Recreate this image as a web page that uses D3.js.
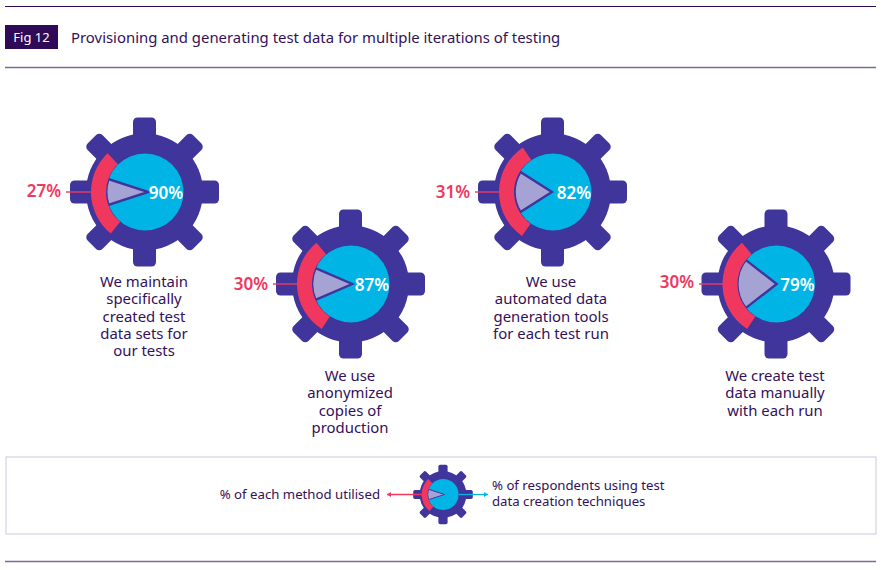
<!DOCTYPE html>
<html><head><meta charset="utf-8">
<script src="https://cdn.jsdelivr.net/npm/d3@7/dist/d3.min.js"></script>
<style>html,body{margin:0;padding:0;background:#fff}svg{display:block}text{font-family:"Noto Sans",sans-serif}</style>
</head><body><svg id="c" width="892" height="570"></svg>
<script>
const figLabel = "Fig 12";
const title = "Provisioning and generating test data for multiple iterations of testing";
const respondents = [90, 87, 82, 79];
const utilised = [27, 30, 31, 30];
const captions = [
  ["We maintain","specifically","created test","data sets for","our tests"],
  ["We use","anonymized","copies of","production"],
  ["We use","automated data","generation tools","for each test run"],
  ["We create test","data manually","with each run"]
];
const legendLeft = "% of each method utilised";
const legendRight = ["% of respondents using test","data creation techniques"];

const cols = {ink:"#33105a", dark:"#2f0a56", gear:"#40359b", blue:"#00b5e6", red:"#f0385f", wedge:"#a5a3d3", rule:"#7d6a94"};
const centers = [[144.5,192],[350.5,284],[552.5,192],[776,284]];
const labelY = [281,375,281,375];
const capX = [144,350,551,775];
const pctX = [44,251,453,677];
const pctY = [191,284,192,282];
const tipShift = [3.8,1.7,-0.6,0.7];
const tipReach = [42,40,37.3,39.3];
const ringShift = [0.04,0.06,-0.01,0.06];

const svg = d3.select("#c");
const angle = d3.scaleLinear().domain([0,100]).range([0,2*Math.PI]);
const toothAngles = d3.range(8).map(i=>i*45);

function gear(parent,cx,cy,k,resp,util,i){
  const g = parent.append("g").attr("transform",`translate(${cx},${cy}) scale(${k})`);
  g.selectAll("rect.t").data(toothAngles).join("rect").attr("class","t")
    .attr("x",d=>d%90?-10.5:-11.5).attr("width",d=>d%90?21:23).attr("y",-74.5).attr("height",30).attr("rx",4.5)
    .attr("transform",d=>`rotate(${d})`).attr("fill",cols.gear);
  g.append("circle").attr("r",58.5).attr("fill",cols.gear);
  g.append("circle").attr("cx",0.5).attr("r",38.5).attr("fill",cols.blue);
  const rest = angle(100-resp);
  const mid = -Math.PI/2;
  g.append("path").attr("transform",`translate(${tipShift[i]},0)`)
    .attr("d",d3.arc()({innerRadius:0,outerRadius:tipReach[i],startAngle:mid-rest/2,endAngle:mid+rest/2}))
    .attr("fill",cols.wedge).attr("stroke",cols.gear).attr("stroke-width",2.4).attr("stroke-linejoin","miter");
  const span = angle(util), m2 = mid - ringShift[i];
  g.append("path").attr("d",d3.arc()({innerRadius:38.5,outerRadius:53.5,startAngle:m2-span/2,endAngle:m2+span/2})).attr("fill",cols.red);
}

// rules and header
[[6.5,cols.dark,1.1],[67.5,cols.rule,1.4],[561.5,cols.rule,1.4]].forEach(([y,c,w])=>
  svg.append("line").attr("x1",5).attr("x2",876).attr("y1",y).attr("y2",y).attr("stroke",c).attr("stroke-width",w));
svg.append("rect").attr("x",5).attr("y",25).attr("width",53).attr("height",24).attr("fill",cols.dark);
svg.append("text").attr("x",31.5).attr("y",37).attr("text-anchor","middle").attr("dominant-baseline","central").attr("font-size",13).attr("fill","#fff").text(figLabel);
svg.append("text").attr("x",71).attr("y",36.5).attr("dominant-baseline","central").attr("font-size",14.9).attr("fill",cols.ink).text(title);

// gears
respondents.forEach((r,i)=>{
  const [cx,cy]=centers[i];
  gear(svg,cx,cy,1,r,utilised[i],i);
  svg.append("line").attr("x1",pctX[i]+22).attr("x2",cx-53).attr("y1",cy).attr("y2",cy).attr("stroke",cols.red).attr("stroke-width",1.4);
  svg.append("text").attr("x",cx+21.5).attr("y",cy+0.5).attr("text-anchor","middle").attr("dominant-baseline","central")
    .attr("font-size",17).attr("font-weight",600).attr("fill","#fff").text(r+"%");
  svg.append("text").attr("x",pctX[i]).attr("y",pctY[i]-0.5).attr("text-anchor","middle").attr("dominant-baseline","central")
    .attr("font-size",17).attr("font-weight",600).attr("fill",cols.red).text(utilised[i]+"%");
  captions[i].forEach((t,j)=>svg.append("text").attr("x",capX[i]).attr("y",labelY[i]+j*17.3)
    .attr("text-anchor","middle").attr("dominant-baseline","central").attr("font-size",14.9).attr("fill",cols.ink).text(t));
});

// legend
svg.append("rect").attr("x",6).attr("y",457).attr("width",870).attr("height",77).attr("fill","#fff").attr("stroke","#d3d3e6").attr("stroke-width",1.2);
const lx=443, ly=494.5;
gear(svg,lx,ly,0.4,90,27,0);
function arrow(x1,x2,c){
  svg.append("line").attr("x1",x1).attr("x2",x2).attr("y1",ly).attr("y2",ly).attr("stroke",c).attr("stroke-width",1.3);
  const s=Math.sign(x2-x1);
  svg.append("path").attr("d",d3.line()([[x2,ly],[x2-s*4,ly-2.5],[x2-s*4,ly+2.5]])+"Z").attr("fill",c);
}
arrow(423,387,cols.red);
arrow(459,488,cols.blue);
svg.append("text").attr("x",380).attr("y",493.5).attr("text-anchor","end").attr("dominant-baseline","central").attr("font-size",13.2).attr("fill",cols.ink).text(legendLeft);
legendRight.forEach((t,j)=>svg.append("text").attr("x",492).attr("y",484.5+j*16).attr("dominant-baseline","central").attr("font-size",13.2).attr("fill",cols.ink).text(t));
</script></body></html>
